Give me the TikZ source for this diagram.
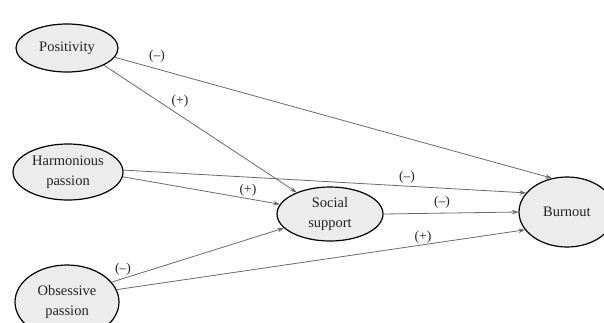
\documentclass[tikz,border=0pt]{standalone}
\usepackage{fontspec}
\setmainfont{Liberation Serif}
\usetikzlibrary{shapes.geometric,arrows.meta}
\definecolor{fillg}{RGB}{236,236,236}
\definecolor{lineg}{RGB}{105,105,105}
\definecolor{txt}{RGB}{35,35,35}
\tikzset{
  var/.style={ellipse, draw=black, line width=1.2pt, fill=fillg, inner sep=0pt,
    align=center, text=txt, font=\fontsize{14.5}{20}\selectfont},
  link/.style={draw=lineg, line width=0.8pt, -{Stealth[length=6.5pt,width=4.5pt]}},
  sign/.style={text=txt, inner sep=0pt, font=\fontsize{13.5}{15}\selectfont}
}
\begin{document}
\begin{tikzpicture}[x=1pt,y=-1pt]
\useasboundingbox (0,0) rectangle (604,322);
\node[var, minimum width=102pt, minimum height=48pt] (pos) at (67,48) {Positivity};
\node[var, minimum width=110pt, minimum height=56pt] (harm) at (68,172) {Harmonious\\passion};
\node[var, minimum width=104pt, minimum height=74pt] (obs) at (67,302) {Obsessive\\passion};
\node[var, minimum width=106pt, minimum height=54pt] (soc) at (330,214) {Social\\support};
\node[var, minimum width=96pt, minimum height=70pt] (burn) at (567,212) {Burnout};

\draw[link] (pos.-11) -- (burn.114);
\draw[link] (pos.-25) -- (soc.147);
\draw[link] (harm.2) -- (burn.155);
\draw[link] (harm.-5) -- (soc.169);
\draw[link] (obs.24) -- (soc.197);
\draw[link] (obs.14) -- (burn.203);
\draw[link] (soc.0) -- (burn.180);

\node[sign] (l1) at (157,56) {(\textendash)};
\node[sign] (l2) at (180,101) {(+)};
\node[sign] (l3) at (248,190) {(+)};
\node[sign] (l4) at (407,177) {(\textendash)};
\node[sign] (l5) at (442,202) {(\textendash)};
\node[sign] (l6) at (423,237) {(+)};
\node[sign] (l7) at (123,269) {(\textendash)};
\end{tikzpicture}
\end{document}
